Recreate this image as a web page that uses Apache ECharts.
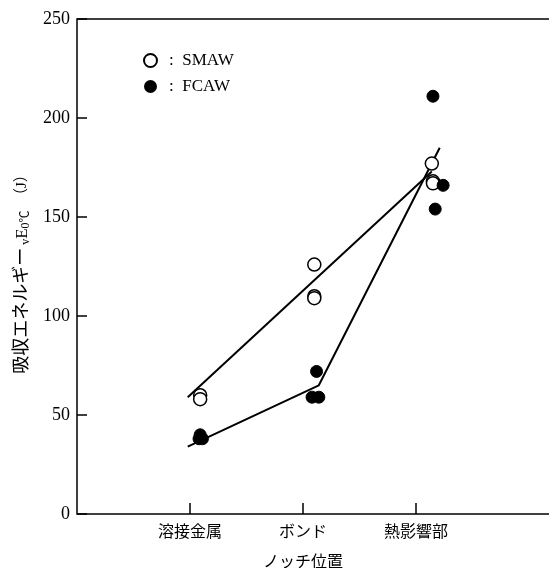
<!DOCTYPE html>
<html lang="ja">
<head>
    <meta charset="UTF-8">
    <title>吸収エネルギー</title>
    <script src="https://cdn.jsdelivr.net/npm/echarts@6/dist/echarts.min.js"></script>
    <style>
        body { margin: 0; background: #fff; }
        #main { width: 549px; height: 568px; }
    </style>
</head>
<body>
<div id="main"></div>
<script>
    // ノッチ位置（x = 1,2,3）
    var categories = ['溶接金属', 'ボンド', '熱影響部'];
    var yTicks = [0, 50, 100, 150, 200, 250];

    // SMAW（白丸）
    var smawX = [1.09, 1.09, 2.10, 2.10, 2.10, 3.14, 3.15, 3.15];
    var smawY = [60, 58, 126, 110, 109, 177, 168, 167];
    // FCAW（黒丸）
    var fcawX = [1.09, 1.08, 1.11, 2.12, 2.08, 2.14, 3.15, 3.24, 3.17];
    var fcawY = [40, 38, 38, 72, 59, 59, 211, 166, 154];

    // 傾向線
    var smawLineX = [0.98, 3.14];
    var smawLineY = [59, 173];
    var fcawLineX = [0.98, 2.14, 3.21];
    var fcawLineY = [34, 65, 185];

    function pairs(xs, ys) {
        var out = [];
        for (var i = 0; i < xs.length; i++) out.push([xs[i], ys[i]]);
        return out;
    }

    var FONT = '"Liberation Serif", "Noto Sans CJK JP", serif';

    var myChart = echarts.init(document.getElementById('main'));
    var option = {
        animation: false,
        textStyle: { fontFamily: FONT, color: '#000' },
        grid: {
            left: 77, top: 19, width: 490, height: 495,
            outerBoundsMode: 'none',
            show: true, borderColor: '#000', borderWidth: 1.5
        },
        legend: {
            orient: 'vertical',
            left: 138, top: 47,
            itemWidth: 13, itemHeight: 13, itemGap: 9,
            icon: 'circle',
            data: ['SMAW', 'FCAW'],
            formatter: function (name) { return ':  ' + name; },
            textStyle: { fontFamily: FONT, fontSize: 17, color: '#000', padding: [0, 0, 0, 7] }
        },
        xAxis: {
            type: 'value',
            min: 0, max: 490 / 113,
            splitLine: { show: false },
            axisLine: { show: false },
            axisTick: {
                inside: true, length: 11, customValues: [1, 2, 3],
                lineStyle: { color: '#000', width: 1.5 }
            },
            axisLabel: {
                customValues: [1, 2, 3],
                formatter: function (v) { return categories[Math.round(v) - 1] || ''; },
                fontSize: 16, margin: 11, color: '#000', fontFamily: FONT
            },
            name: 'ノッチ位置',
            nameLocation: 'middle',
            nameGap: 41,
            nameTextStyle: { fontSize: 16, color: '#000', fontFamily: FONT, padding: [0, 38, 0, 0] }
        },
        yAxis: {
            type: 'value',
            min: 0, max: 250, interval: 50,
            splitLine: { show: false },
            axisLine: { show: false },
            axisTick: { inside: true, length: 10, lineStyle: { color: '#000', width: 1.5 } },
            axisLabel: { fontSize: 18, margin: 7, color: '#000', fontFamily: FONT },
            name: '{a|吸収エネルギー}{s| v}{e|E}{s|0℃}{p|  （J）}',
            nameLocation: 'middle',
            nameRotate: 90,
            nameGap: 45,
            nameTextStyle: {
                padding: [0, 8, 0, 0],
                rich: {
                    a: { fontSize: 18, fontFamily: FONT, color: '#000', verticalAlign: 'middle' },
                    p: { fontSize: 15, fontFamily: FONT, color: '#000', verticalAlign: 'middle' },
                    e: { fontSize: 17, fontFamily: FONT, color: '#000', verticalAlign: 'middle' },
                    s: { fontSize: 12, fontFamily: FONT, color: '#000', verticalAlign: 'bottom', padding: [7, 0, 0, 0] }
                }
            }
        },
        series: [
            {
                name: 'SMAW線', type: 'line', data: pairs(smawLineX, smawLineY),
                symbol: 'none', lineStyle: { color: '#000', width: 2 }, z: 1
            },
            {
                name: 'FCAW線', type: 'line', data: pairs(fcawLineX, fcawLineY),
                symbol: 'none', lineStyle: { color: '#000', width: 2 }, z: 1
            },
            {
                name: 'SMAW', type: 'scatter', data: pairs(smawX, smawY),
                symbol: 'circle', symbolSize: 13,
                itemStyle: { color: '#fff', borderColor: '#000', borderWidth: 1.5, opacity: 1 }, z: 3
            },
            {
                name: 'FCAW', type: 'scatter', data: pairs(fcawX, fcawY),
                symbol: 'circle', symbolSize: 12,
                itemStyle: { color: '#000', borderColor: '#000', opacity: 1 }, z: 4
            }
        ]
    };
    myChart.setOption(option);
</script>
</body>
</html>
